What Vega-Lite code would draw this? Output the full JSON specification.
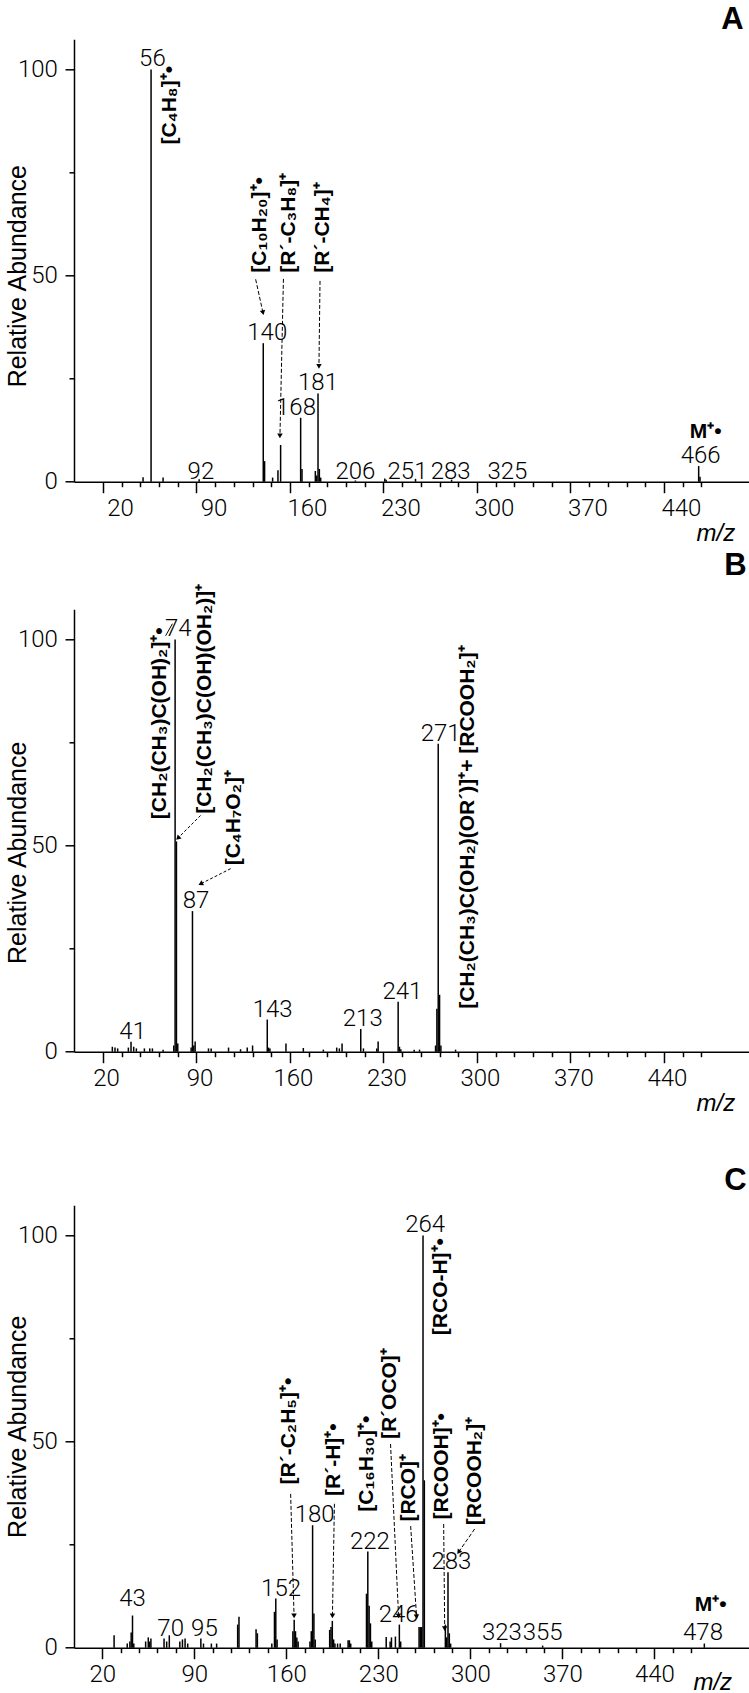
{
  "$schema": "https://vega.github.io/schema/vega-lite/v6.json",
  "autosize": {"type": "pad"},
  "padding": {"left": 5, "top": 4.3, "right": 0, "bottom": 0},
  "background": "white",
  "config": {"view": {"stroke": null}, "font": "Liberation Sans"},
  "datasets": {
    "peaksA": [
      {"mz": 50, "ab": 1.1}, {"mz": 56, "ab": 100}, {"mz": 65, "ab": 1.0}, {"mz": 92, "ab": 0.6},
      {"mz": 140, "ab": 33.6}, {"mz": 141, "ab": 5.0}, {"mz": 147, "ab": 1.0}, {"mz": 151, "ab": 2.8},
      {"mz": 153, "ab": 8.9}, {"mz": 168, "ab": 15.5}, {"mz": 169, "ab": 3.1}, {"mz": 179, "ab": 2.6},
      {"mz": 180, "ab": 1.5}, {"mz": 181, "ab": 21.4}, {"mz": 182, "ab": 3.1}, {"mz": 183, "ab": 1.0},
      {"mz": 209, "ab": 0.3}, {"mz": 231, "ab": 0.8}, {"mz": 232, "ab": 0.5}, {"mz": 254, "ab": 0.7},
      {"mz": 281, "ab": 0.5}, {"mz": 466, "ab": 3.8}, {"mz": 467, "ab": 1.2}
    ],
    "labA": [
      {"mz": 57, "ab": 100, "t": "56"}, {"mz": 143, "ab": 33.6, "t": "140"}, {"mz": 164.5, "ab": 15.5, "t": "168"},
      {"mz": 181, "ab": 21.4, "t": "181"}, {"mz": 93.3, "ab": 0, "t": "92"}, {"mz": 209, "ab": 0, "t": "206"},
      {"mz": 248, "ab": 0, "t": "251"}, {"mz": 280.3, "ab": 0, "t": "283"}, {"mz": 322.8, "ab": 0, "t": "325"},
      {"mz": 467.5, "ab": 3.8, "t": "466"}
    ],
    "annA": [
      {"mz": 69.9, "ab": 81.8, "t": "[C₄H₈]⁺•"}, {"mz": 137.5, "ab": 50.7, "t": "[C₁₀H₂₀]⁺•"},
      {"mz": 159, "ab": 50.7, "t": "[R´-C₃H₈]⁺"}, {"mz": 184.5, "ab": 50.7, "t": "[R´-CH₄]⁺"}
    ],
    "mA": [{"mz": 471.2, "ab": 10.6, "t": "M⁺•"}],
    "arrA": [
      {"mz": 134.3, "ab": 49.1, "mz2": 139.8, "ab2": 41.0, "ang": -12},
      {"mz": 155.1, "ab": 49.2, "mz2": 152.5, "ab2": 11.1, "ang": 1},
      {"mz": 182.5, "ab": 48.7, "mz2": 181.7, "ab2": 28.0, "ang": 0}
    ],
    "peaksB": [
      {"mz": 27, "ab": 1.2}, {"mz": 29, "ab": 1.0}, {"mz": 31, "ab": 0.8}, {"mz": 39, "ab": 1.0}, {"mz": 41, "ab": 2.4},
      {"mz": 43, "ab": 1.2}, {"mz": 45, "ab": 0.8}, {"mz": 51, "ab": 0.8}, {"mz": 55, "ab": 0.8}, {"mz": 57, "ab": 0.8},
      {"mz": 65, "ab": 0.5}, {"mz": 73, "ab": 1.5}, {"mz": 74, "ab": 100}, {"mz": 75, "ab": 51}, {"mz": 76, "ab": 2.0},
      {"mz": 86, "ab": 1.0}, {"mz": 87, "ab": 34.1}, {"mz": 88, "ab": 1.5}, {"mz": 89, "ab": 2.5}, {"mz": 99, "ab": 0.8},
      {"mz": 101, "ab": 0.8}, {"mz": 114, "ab": 1.0}, {"mz": 123, "ab": 0.6}, {"mz": 128, "ab": 1.0}, {"mz": 132, "ab": 1.5},
      {"mz": 143, "ab": 7.8}, {"mz": 144, "ab": 1.0}, {"mz": 145, "ab": 0.8}, {"mz": 157, "ab": 2.0}, {"mz": 170, "ab": 0.9},
      {"mz": 185, "ab": 0.5}, {"mz": 195, "ab": 1.0}, {"mz": 197, "ab": 0.8}, {"mz": 199, "ab": 2.0}, {"mz": 213, "ab": 5.5},
      {"mz": 215, "ab": 0.8}, {"mz": 225, "ab": 0.8}, {"mz": 226, "ab": 2.5}, {"mz": 241, "ab": 12.1}, {"mz": 242, "ab": 1.2},
      {"mz": 243, "ab": 0.6}, {"mz": 253, "ab": 0.5}, {"mz": 257, "ab": 0.5}, {"mz": 269, "ab": 1.5}, {"mz": 270, "ab": 10.4},
      {"mz": 271, "ab": 74.7}, {"mz": 272, "ab": 13.8}, {"mz": 273, "ab": 1.5}, {"mz": 284, "ab": 0.5}
    ],
    "labB": [
      {"mz": 76.4, "ab": 100, "t": "74"}, {"mz": 89.6, "ab": 34.1, "t": "87"}, {"mz": 272.8, "ab": 74.7, "t": "271"},
      {"mz": 244.2, "ab": 12.1, "t": "241"}, {"mz": 214.5, "ab": 5.5, "t": "213"}, {"mz": 147, "ab": 7.8, "t": "143"},
      {"mz": 42.2, "ab": 2.4, "t": "41"}
    ],
    "annB": [
      {"mz": 62.4, "ab": 56.4, "t": "[CH₂(CH₃)C(OH)₂]⁺•"},
      {"mz": 96.5, "ab": 57.7, "t": "[CH₂(CH₃)C(OH)(OH₂)]⁺"},
      {"mz": 117.9, "ab": 45.2, "t": "[C₄H₇O₂]⁺"},
      {"mz": 293, "ab": 10.4, "t": "[CH₂(CH₃)C(OH₂)(OR´)]⁺+ [RCOOH₂]⁺"}
    ],
    "arrB": [
      {"mz": 93.1, "ab": 57.3, "mz2": 76.1, "ab2": 51.8, "ang": 45},
      {"mz": 115.6, "ab": 44.4, "mz2": 93.1, "ab2": 40.7, "ang": 63}
    ],
    "leadB": [
      {"mz": 66.9, "ab": 100.9, "mz2": 72, "ab2": 103.8}
    ],
    "peaksC": [
      {"mz": 29, "ab": 3.0}, {"mz": 39, "ab": 1.0}, {"mz": 41, "ab": 1.5}, {"mz": 42, "ab": 3.7}, {"mz": 43, "ab": 7.8},
      {"mz": 44, "ab": 1.0}, {"mz": 53, "ab": 1.5}, {"mz": 55, "ab": 2.5}, {"mz": 56, "ab": 1.5}, {"mz": 57, "ab": 2.2},
      {"mz": 67, "ab": 2.2}, {"mz": 69, "ab": 1.5}, {"mz": 71, "ab": 3.0}, {"mz": 79, "ab": 1.5}, {"mz": 81, "ab": 2.0},
      {"mz": 83, "ab": 2.2}, {"mz": 85, "ab": 1.0}, {"mz": 95, "ab": 2.2}, {"mz": 97, "ab": 1.0}, {"mz": 103, "ab": 1.0},
      {"mz": 107, "ab": 1.0}, {"mz": 123, "ab": 5.6}, {"mz": 124, "ab": 7.5}, {"mz": 137, "ab": 4.5}, {"mz": 138, "ab": 3.5},
      {"mz": 149, "ab": 1.0}, {"mz": 151, "ab": 8.7}, {"mz": 152, "ab": 11.9}, {"mz": 153, "ab": 2.0}, {"mz": 165, "ab": 4.0},
      {"mz": 166, "ab": 6.8}, {"mz": 167, "ab": 4.0}, {"mz": 168, "ab": 2.5}, {"mz": 169, "ab": 1.5}, {"mz": 178, "ab": 1.5},
      {"mz": 179, "ab": 4.0}, {"mz": 180, "ab": 29.7}, {"mz": 181, "ab": 8.3}, {"mz": 182, "ab": 2.0}, {"mz": 193, "ab": 4.3},
      {"mz": 194, "ab": 5.0}, {"mz": 195, "ab": 6.5}, {"mz": 196, "ab": 2.0}, {"mz": 197, "ab": 1.0}, {"mz": 199, "ab": 1.0},
      {"mz": 201, "ab": 1.0}, {"mz": 207, "ab": 1.8}, {"mz": 208, "ab": 1.8}, {"mz": 209, "ab": 1.0}, {"mz": 221, "ab": 13.1},
      {"mz": 222, "ab": 23.3}, {"mz": 223, "ab": 10.2}, {"mz": 224, "ab": 5.9}, {"mz": 225, "ab": 1.5}, {"mz": 236, "ab": 2.6},
      {"mz": 239, "ab": 1.5}, {"mz": 240, "ab": 2.5}, {"mz": 243, "ab": 2.7}, {"mz": 246, "ab": 5.6}, {"mz": 247, "ab": 1.5},
      {"mz": 261, "ab": 5.0}, {"mz": 262, "ab": 5.0}, {"mz": 263, "ab": 5.0}, {"mz": 264, "ab": 100}, {"mz": 265, "ab": 40.6},
      {"mz": 281, "ab": 5.6}, {"mz": 282, "ab": 2.5}, {"mz": 283, "ab": 18.3}, {"mz": 284, "ab": 3.5}, {"mz": 285, "ab": 1.0},
      {"mz": 323, "ab": 1.1}, {"mz": 355, "ab": 0.5}, {"mz": 478, "ab": 1.0}
    ],
    "labC": [
      {"mz": 43, "ab": 9.5, "t": "43"}, {"mz": 72, "ab": 2.2, "t": "70"}, {"mz": 97.7, "ab": 2.2, "t": "95"},
      {"mz": 156, "ab": 11.9, "t": "152"}, {"mz": 181.6, "ab": 29.7, "t": "180"}, {"mz": 223.6, "ab": 23.3, "t": "222"},
      {"mz": 245.5, "ab": 5.6, "t": "246"}, {"mz": 265.6, "ab": 100, "t": "264"}, {"mz": 285.6, "ab": 18.3, "t": "283"},
      {"mz": 324, "ab": 1.1, "t": "323"}, {"mz": 355, "ab": 1.1, "t": "355"}, {"mz": 477, "ab": 1.1, "t": "478"}
    ],
    "annC": [
      {"mz": 161.8, "ab": 39.6, "t": "[R´-C₂H₅]⁺•"}, {"mz": 196, "ab": 36.8, "t": "[R´-H]⁺•"},
      {"mz": 221.1, "ab": 33, "t": "[C₁₆H₃₀]⁺•"}, {"mz": 238.6, "ab": 50.6, "t": "[R´OCO]⁺"},
      {"mz": 253, "ab": 30.6, "t": "[RCO]⁺"}, {"mz": 277.4, "ab": 75.8, "t": "[RCO-H]⁺•"},
      {"mz": 278.2, "ab": 31.1, "t": "[RCOOH]⁺•"}, {"mz": 303.3, "ab": 29.7, "t": "[RCOOH₂]⁺"}
    ],
    "mC": [{"mz": 482.8, "ab": 9.0, "t": "M⁺•"}],
    "arrC": [
      {"mz": 163.3, "ab": 37.3, "mz2": 165.9, "ab2": 7.7, "ang": -1},
      {"mz": 196.6, "ab": 34.9, "mz2": 195.1, "ab2": 7.7, "ang": 0},
      {"mz": 239.3, "ab": 49.4, "mz2": 245.4, "ab2": 7.7, "ang": -3},
      {"mz": 254.6, "ab": 29.5, "mz2": 259.1, "ab2": 7.5, "ang": -4},
      {"mz": 279.7, "ab": 30.0, "mz2": 280.5, "ab2": 4.6, "ang": 0},
      {"mz": 303.3, "ab": 28.8, "mz2": 291.1, "ab2": 23.2, "ang": 35}
    ]
  },
  "vconcat": [
    {
      "width": 675.7, "height": 442.4,
      "title": {"text": "A", "anchor": "end", "frame": "group", "fontSize": 31, "fontWeight": "bold", "font": "Liberation Sans", "color": "black", "offset": 3, "dx": -6},
      "encoding": {
        "x": {"field": "mz", "type": "quantitative", "scale": {"domain": [-1.7, 504.2], "nice": false, "zero": false},
          "axis": {"values": [20,34,48,62,76,90,104,118,132,146,160,174,188,202,216,230,244,258,272,286,300,314,328,342,356,370,384,398,412,426,440,454,468],
            "labelExpr": "(datum.value - 20) % 70 == 0 ? datum.label : ''",
            "tickSize": {"condition": {"test": "(datum.value - 20) % 70 == 0", "value": 11}, "value": 5},
            "labelOffset": 17, "labelPadding": 4, "labelFont": "Roboto", "labelFontSize": 24, "labelFontWeight": 300, "labelColor": "black",
            "labelOverlap": false, "labelFlush": false, "labelBound": false,
            "domainColor": "black", "domainWidth": 1.5, "tickColor": "black", "tickWidth": 1.5, "grid": false,
            "title": "m/z", "titleFont": "Liberation Sans", "titleFontSize": 24, "titleFontStyle": "italic", "titleFontWeight": "normal", "titleColor": "black",
            "titleAlign": "right", "titleBaseline": "alphabetic", "titleAnchor": "end", "titleX": 660.7, "titleY": 59}},
        "y": {"field": "ab", "type": "quantitative", "scale": {"domain": [0, 107.3], "nice": false},
          "axis": {"values": [0, 25, 50, 75, 100], "labelExpr": "datum.value % 50 == 0 ? datum.label : ''",
            "tickSize": {"condition": {"test": "datum.value % 50 == 0", "value": 9}, "value": 5},
            "labelPadding": 7.6, "labelFont": "Roboto", "labelFontSize": 24, "labelFontWeight": 300, "labelColor": "black",
            "domainColor": "black", "domainWidth": 1.5, "tickColor": "black", "tickWidth": 1.5, "grid": false,
            "title": "Relative Abundance", "titleFont": "Liberation Sans", "titleFontSize": 25, "titleFontWeight": "normal", "titleColor": "black",
            "titleAngle": 270, "titleAlign": "center", "titleBaseline": "top", "titleX": -68.3, "titleY": 236.4}}
      },
      "layer": [
        {"data": {"name": "peaksA"}, "mark": {"type": "rule", "color": "black", "strokeWidth": 1.5}, "encoding": {"y2": {"datum": 0}}},
        {"data": {"name": "labA"}, "mark": {"type": "text", "font": "Roboto", "fontWeight": 300, "fontSize": 24, "align": "center", "baseline": "alphabetic", "dy": -3, "color": "black"}, "encoding": {"text": {"field": "t"}}},
        {"data": {"name": "annA"}, "mark": {"type": "text", "font": "Liberation Sans", "fontWeight": "bold", "fontSize": 21, "angle": 270, "align": "left", "baseline": "middle", "color": "black"}, "encoding": {"text": {"field": "t"}}},
        {"data": {"name": "mA"}, "mark": {"type": "text", "font": "Liberation Sans", "fontWeight": "bold", "fontSize": 21, "align": "center", "baseline": "alphabetic", "color": "black"}, "encoding": {"text": {"field": "t"}}},
        {"data": {"name": "arrA"}, "mark": {"type": "rule", "color": "black", "strokeWidth": 1, "strokeDash": [4, 2]}, "encoding": {"x2": {"field": "mz2"}, "y2": {"field": "ab2"}}},
        {"data": {"name": "arrA"}, "mark": {"type": "point", "shape": "triangle-down", "filled": true, "color": "black", "size": 30, "opacity": 1}, "encoding": {"x": {"field": "mz2", "type": "quantitative"}, "y": {"field": "ab2", "type": "quantitative"}, "angle": {"field": "ang", "type": "quantitative", "scale": null}}}
      ]
    },
    {"width": 675.7, "height": 126.3, "data": {"values": [{"v": 0}]}, "mark": {"type": "point", "opacity": 0}, "encoding": {}},
    {
      "width": 675.7, "height": 442.4,
      "title": {"text": "B", "anchor": "end", "frame": "group", "fontSize": 31, "fontWeight": "bold", "font": "Liberation Sans", "color": "black", "offset": 2, "dx": -3},
      "encoding": {
        "x": {"field": "mz", "type": "quantitative", "scale": {"domain": [-1.7, 504.2], "nice": false, "zero": false},
          "axis": {"values": [20,34,48,62,76,90,104,118,132,146,160,174,188,202,216,230,244,258,272,286,300,314,328,342,356,370,384,398,412,426,440,454,468],
            "labelExpr": "(datum.value - 20) % 70 == 0 ? datum.label : ''",
            "tickSize": {"condition": {"test": "(datum.value - 20) % 70 == 0", "value": 11}, "value": 5},
            "labelOffset": 3, "labelPadding": 4, "labelFont": "Roboto", "labelFontSize": 24, "labelFontWeight": 300, "labelColor": "black",
            "labelOverlap": false, "labelFlush": false, "labelBound": false,
            "domainColor": "black", "domainWidth": 1.5, "tickColor": "black", "tickWidth": 1.5, "grid": false,
            "title": "m/z", "titleFont": "Liberation Sans", "titleFontSize": 24, "titleFontStyle": "italic", "titleFontWeight": "normal", "titleColor": "black",
            "titleAlign": "right", "titleBaseline": "alphabetic", "titleAnchor": "end", "titleX": 660.7, "titleY": 59}},
        "y": {"field": "ab", "type": "quantitative", "scale": {"domain": [0, 107.3], "nice": false},
          "axis": {"values": [0, 25, 50, 75, 100], "labelExpr": "datum.value % 50 == 0 ? datum.label : ''",
            "tickSize": {"condition": {"test": "datum.value % 50 == 0", "value": 9}, "value": 5},
            "labelPadding": 7.6, "labelFont": "Roboto", "labelFontSize": 24, "labelFontWeight": 300, "labelColor": "black",
            "domainColor": "black", "domainWidth": 1.5, "tickColor": "black", "tickWidth": 1.5, "grid": false,
            "title": "Relative Abundance", "titleFont": "Liberation Sans", "titleFontSize": 25, "titleFontWeight": "normal", "titleColor": "black",
            "titleAngle": 270, "titleAlign": "center", "titleBaseline": "top", "titleX": -68.3, "titleY": 243}}
      },
      "layer": [
        {"data": {"name": "peaksB"}, "mark": {"type": "rule", "color": "black", "strokeWidth": 1.5}, "encoding": {"y2": {"datum": 0}}},
        {"data": {"name": "labB"}, "mark": {"type": "text", "font": "Roboto", "fontWeight": 300, "fontSize": 24, "align": "center", "baseline": "alphabetic", "dy": -3, "color": "black"}, "encoding": {"text": {"field": "t"}}},
        {"data": {"name": "annB"}, "mark": {"type": "text", "font": "Liberation Sans", "fontWeight": "bold", "fontSize": 21, "angle": 270, "align": "left", "baseline": "middle", "color": "black"}, "encoding": {"text": {"field": "t"}}},
        {"data": {"name": "arrB"}, "mark": {"type": "rule", "color": "black", "strokeWidth": 1, "strokeDash": [3, 2]}, "encoding": {"x2": {"field": "mz2"}, "y2": {"field": "ab2"}}},
        {"data": {"name": "leadB"}, "mark": {"type": "rule", "color": "black", "strokeWidth": 1}, "encoding": {"x2": {"field": "mz2"}, "y2": {"field": "ab2"}}},
        {"data": {"name": "arrB"}, "mark": {"type": "point", "shape": "triangle-down", "filled": true, "color": "black", "size": 30, "opacity": 1}, "encoding": {"x": {"field": "mz2", "type": "quantitative"}, "y": {"field": "ab2", "type": "quantitative"}, "angle": {"field": "ang", "type": "quantitative", "scale": null}}}
      ]
    },
    {"width": 675.7, "height": 152.3, "data": {"values": [{"v": 0}]}, "mark": {"type": "point", "opacity": 0}, "encoding": {}},
    {
      "width": 675.7, "height": 442.4,
      "title": {"text": "C", "anchor": "end", "frame": "group", "fontSize": 31, "fontWeight": "bold", "font": "Liberation Sans", "color": "black", "offset": 8, "dx": -3},
      "encoding": {
        "x": {"field": "mz", "type": "quantitative", "scale": {"domain": [-1.5, 512.5], "nice": false, "zero": false},
          "axis": {"values": [20,34,48,62,76,90,104,118,132,146,160,174,188,202,216,230,244,258,272,286,300,314,328,342,356,370,384,398,412,426,440,454,468],
            "labelExpr": "(datum.value - 20) % 70 == 0 ? datum.label : ''",
            "tickSize": {"condition": {"test": "(datum.value - 20) % 70 == 0", "value": 11}, "value": 5},
            "labelPadding": 4, "labelFont": "Roboto", "labelFontSize": 24, "labelFontWeight": 300, "labelColor": "black",
            "labelOverlap": false, "labelFlush": false, "labelBound": false,
            "domainColor": "black", "domainWidth": 1.5, "tickColor": "black", "tickWidth": 1.5, "grid": false,
            "title": "m/z", "titleFont": "Liberation Sans", "titleFontSize": 24, "titleFontStyle": "italic", "titleFontWeight": "normal", "titleColor": "black",
            "titleAlign": "right", "titleBaseline": "alphabetic", "titleAnchor": "end", "titleX": 657.6, "titleY": 42}},
        "y": {"field": "ab", "type": "quantitative", "scale": {"domain": [0, 107.3], "nice": false},
          "axis": {"values": [0, 25, 50, 75, 100], "labelExpr": "datum.value % 50 == 0 ? datum.label : ''",
            "tickSize": {"condition": {"test": "datum.value % 50 == 0", "value": 9}, "value": 5},
            "labelPadding": 7.6, "labelFont": "Roboto", "labelFontSize": 24, "labelFontWeight": 300, "labelColor": "black",
            "domainColor": "black", "domainWidth": 1.5, "tickColor": "black", "tickWidth": 1.5, "grid": false,
            "title": "Relative Abundance", "titleFont": "Liberation Sans", "titleFontSize": 25, "titleFontWeight": "normal", "titleColor": "black",
            "titleAngle": 270, "titleAlign": "center", "titleBaseline": "top", "titleX": -68.3, "titleY": 221}}
      },
      "layer": [
        {"data": {"name": "peaksC"}, "mark": {"type": "rule", "color": "black", "strokeWidth": 1.5}, "encoding": {"y2": {"datum": 0}}},
        {"data": {"name": "labC"}, "mark": {"type": "text", "font": "Roboto", "fontWeight": 300, "fontSize": 24, "align": "center", "baseline": "alphabetic", "dy": -3, "color": "black"}, "encoding": {"text": {"field": "t"}}},
        {"data": {"name": "annC"}, "mark": {"type": "text", "font": "Liberation Sans", "fontWeight": "bold", "fontSize": 21, "angle": 270, "align": "left", "baseline": "middle", "color": "black"}, "encoding": {"text": {"field": "t"}}},
        {"data": {"name": "mC"}, "mark": {"type": "text", "font": "Liberation Sans", "fontWeight": "bold", "fontSize": 21, "align": "center", "baseline": "alphabetic", "color": "black"}, "encoding": {"text": {"field": "t"}}},
        {"data": {"name": "arrC"}, "mark": {"type": "rule", "color": "black", "strokeWidth": 1, "strokeDash": [4, 2]}, "encoding": {"x2": {"field": "mz2"}, "y2": {"field": "ab2"}}},
        {"data": {"name": "arrC"}, "mark": {"type": "point", "shape": "triangle-down", "filled": true, "color": "black", "size": 30, "opacity": 1}, "encoding": {"x": {"field": "mz2", "type": "quantitative"}, "y": {"field": "ab2", "type": "quantitative"}, "angle": {"field": "ang", "type": "quantitative", "scale": null}}}
      ]
    }
  ],
  "spacing": 0,
  "bounds": "flush"
}
